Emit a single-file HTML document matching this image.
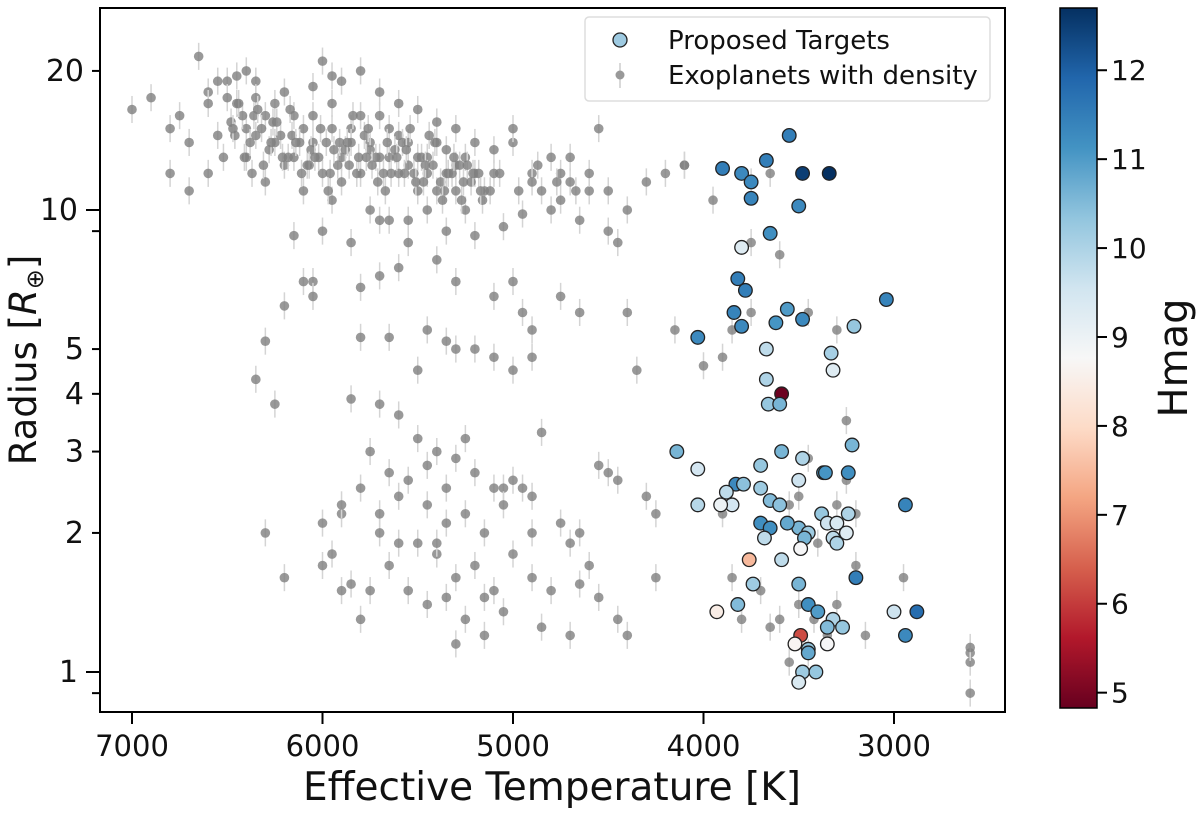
<!DOCTYPE html>
<html><head><meta charset="utf-8"><style>
html,body{margin:0;padding:0;background:#fff;}
svg text{font-family:"DejaVu Sans","Liberation Sans",sans-serif;fill:#111;}
</style></head><body>
<svg id="chart" width="1200" height="811" viewBox="0 0 1200 811" xmlns="http://www.w3.org/2000/svg">
<defs>
<linearGradient id="rdbu" x1="0" y1="1" x2="0" y2="0">
<stop offset="0" stop-color="#67001f"/><stop offset="0.1" stop-color="#b2182b"/><stop offset="0.2" stop-color="#d6604d"/><stop offset="0.3" stop-color="#f4a582"/><stop offset="0.4" stop-color="#fddbc7"/><stop offset="0.5" stop-color="#f7f7f7"/><stop offset="0.6" stop-color="#d1e5f0"/><stop offset="0.7" stop-color="#92c5de"/><stop offset="0.8" stop-color="#4393c3"/><stop offset="0.9" stop-color="#2166ac"/><stop offset="1" stop-color="#053061"/>
</linearGradient>
<clipPath id="plotclip"><rect x="100" y="8" width="905" height="704"/></clipPath>
</defs>
<g id="gray" clip-path="url(#plotclip)"></g>
<g id="targets" clip-path="url(#plotclip)"></g>
<rect x="100" y="8" width="905" height="704" fill="none" stroke="#000" stroke-width="2"/>
<g id="axes"></g>
<text x="552" y="800" font-size="39" text-anchor="middle">Effective Temperature [K]</text>
<text transform="translate(36,360) rotate(-90)" font-size="37" text-anchor="middle">Radius [<tspan font-style="italic">R</tspan><tspan font-size="24" dy="7">⊕</tspan><tspan dy="-7">]</tspan></text>
<g>
<rect x="585" y="17" width="405" height="84" rx="4" fill="#fff" stroke="#ddd" stroke-width="1.5"/>
<circle cx="620" cy="40" r="7" fill="#9ecae1" stroke="#222" stroke-width="1.3"/>
<text x="668" y="49" font-size="26">Proposed Targets</text>
<line x1="620" y1="63" x2="620" y2="88" stroke="#ccc" stroke-width="1.5"/>
<circle cx="620" cy="75" r="4.5" fill="#999"/>
<text x="668" y="84" font-size="26">Exoplanets with density</text>
</g>
<rect x="1060" y="8" width="37" height="700" fill="url(#rdbu)" stroke="#000" stroke-width="1.5"/>
<g id="cbticks"></g>
<text transform="translate(1187,358) rotate(-90)" font-size="40" text-anchor="middle">Hmag</text>
</svg>
<script>
const xTicks=[7000,6000,5000,4000,3000];
const yTicksLabeled=[1,2,3,4,5,10,20];
const yTicksMinor=[0.9,9];
const cbTicks=[5,6,7,8,9,10,11,12];
const grayT=[7000,6900,6800,6750,6700,6650,6600,6550,6500,6450,6400,6350,6300,6250,6200,6150,6100,6050,6000,5950,5900,5850,5800,5750,5700,5650,5600,5550,5500,5450,5400,5350,5300,5250,5200,5150,5100,5000,4900,4850,4800,4750,4700,4600,4550,4500,4400,4300,4200,4100,6600,6450,6350,6250,6150,6050,5950,5850,5750,5650,5550,5450,5350,6700,6550,6400,6200,6000,5900,5800,5700,5600,5500,5400,5300,6800,6600,6300,6100,5950,5750,5650,5550,5450,5350,5250,5200,5050,4950,4750,4650,4500,4450,6000,5850,5700,6150,5900,5800,5700,5500,5400,5000,4900,4700,4600,4800,5100,5200,5300,6400,6500,6350,6050,5600,5950,
6480,6420,6380,6320,6280,6220,6180,6120,6080,6020,5980,5920,5880,5820,5780,5720,5680,5620,5580,5520,5480,5420,5380,5320,5280,5220,5180,5120,6460,6410,6360,6310,6260,6210,6160,6110,6060,6010,5960,5910,5860,5810,5760,5710,5660,5610,5560,5510,5460,5410,5360,5310,5260,5210,5160,6440,6340,6240,6140,6040,5940,5840,5740,5640,5540,5440,5340,5240,6520,6470,6370,6270,6170,6070,5970,5870,5770,5670,5570,5470,5370,5270,5170,5070,4970,4870,4770,4670,
6100,6050,6200,6050,5800,5700,5600,5400,5300,5100,5000,4950,4750,4650,5650,5450,5350,5200,5100,5000,4900,5500,5300,6300,6350,6250,5850,5700,5600,4350,4000,4150,4400,5550,5800,4900,
6300,6000,5900,5800,5700,5600,5500,5450,5400,5350,5300,5250,5200,5100,5050,5000,4900,4850,5750,5650,5550,5450,5350,5250,5150,5050,4950,6200,5900,5850,5750,5650,5550,5500,5400,5300,5200,5100,5000,4900,5950,5800,5450,5350,5250,5150,5050,4850,4700,4650,4600,4550,4450,4400,4250,4700,4650,4550,4500,4450,4300,4250,5300,5150,4750,4800,5600,5700,5900,6000,5400,4900,
3800,3700,3600,3500,3400,3300,3250,3200,2950,2600,2600,2600,2600,3450,3550,3250,3600,3750,3850,3900,3450,3300,3650,3750,3950,4100,3750,3450,3350,3500,3300,3200,3900,3850,3650,3420,3550,3150];
const grayR=[16.5,17.5,15,16,11,21.5,18,19,19,17,15,19,16,14,18,13,15,14,21,17,13,15,12,14,13,15,12,14,11,13,14,12,11,13,12,11,12,14,12,11,10,12,13,11,15,11,10,11.5,12,12.5,17,19.5,17.5,17,16,16,15,14,13.5,13,12.5,12,13.5,14,14.5,13,12.5,12,11.5,16,16,14.5,13,11,12.5,12,12,11.5,11,10.5,10,9.5,9.5,10,9,10,8.8,9.2,9.8,10.5,9.5,9,8.5,9,8.5,9.5,8.8,19,20,18,16.5,15.5,15,11.5,11.5,12,13,13.5,14,15,20,17.5,14.5,18.5,17,19.5,
15.5,16,14,15,13.5,14.5,13,14,12.5,13,14,12.5,13.5,12,14.5,13,12,13.5,14,12,13,12.5,11.5,12,12.5,11.5,12,11,14.5,13,16,12.5,15.5,13,14.5,12,13.5,15,12,14,12.5,13,15,11.5,14,13,13.5,11.5,12.5,14,11,13,11.5,12,10.5,17,16.5,15.5,14,13,13.5,16,12.5,12,15,14.5,12,12.5,13,15,12,14,16.5,12.5,11,14,13,11,12,11.5,10.5,10.5,11,12,11,12.5,11.5,11,
7,7,6.2,6.5,6.8,7.2,7.5,7.8,7,6.5,7,6,6.5,6,5.3,5.5,5.2,5,4.8,4.5,5.5,4.5,5,5.2,4.3,3.8,3.9,3.8,3.6,4.5,4.6,5.5,6,8.5,5.3,4.8,
2.0,2.1,2.2,2.5,2.2,2.4,3.2,2.8,3,2.5,2.9,3.2,2.7,2.5,2.5,2.6,2.4,3.3,3.0,2.7,2.6,2.3,2.1,2.2,2.0,2.3,2.5,1.6,1.5,1.55,1.5,1.7,1.5,1.9,1.8,1.6,1.7,1.5,1.8,1.6,1.8,1.3,1.4,1.45,1.3,1.45,1.35,1.25,1.2,1.55,1.7,1.45,1.3,1.2,1.6,1.9,2.0,2.8,2.7,2.6,2.4,2.2,1.15,1.2,2.1,1.5,1.9,2.0,2.3,1.7,1.9,2.0,
1.3,1.5,1.3,1.4,1.9,2.3,2.6,1.7,1.6,1.1,1.05,0.9,1.13,2.9,2.3,3.5,8,6,5.5,4.8,6,5.5,12,11.5,10.5,12.5,8.5,1.1,1.2,2.4,1.4,2.2,2.2,1.6,1.25,1.3,1.05,1.2];
const tgtT=[3550,3900,3800,3750,3670,3480,3340,3750,3500,3650,3800,3820,3780,3560,3040,3840,3800,3620,3480,3210,4030,3670,3330,3320,3670,3590,3660,3600,4140,4030,3590,3700,3480,3370,3240,3220,3830,3790,3500,3360,3880,3850,3910,3700,3650,4030,3600,3700,3650,3500,3560,3450,3380,3350,3300,3240,3250,3320,3680,3470,3490,3300,2940,3760,3590,3200,3500,3740,3820,3930,3450,3400,3320,3000,2880,3350,3270,2940,3490,3520,3450,3350,3450,3480,3410,3500];
const tgtR=[14.5,12.3,12,11.5,12.8,12,12,10.6,10.2,8.9,8.3,7.1,6.7,6.1,6.4,6.0,5.6,5.7,5.8,5.6,5.3,5.0,4.9,4.5,4.3,4.0,3.8,3.8,3.0,2.75,3.0,2.8,2.9,2.7,2.7,3.1,2.55,2.55,2.6,2.7,2.45,2.3,2.3,2.5,2.35,2.3,2.3,2.1,2.05,2.05,2.1,2.0,2.2,2.1,2.1,2.2,2.0,1.95,1.95,1.95,1.85,1.9,2.3,1.75,1.75,1.6,1.55,1.55,1.4,1.35,1.4,1.35,1.3,1.35,1.35,1.25,1.25,1.2,1.2,1.15,1.12,1.15,1.1,1.0,1.0,0.95];
const tgtH=[11.5,11.5,11.3,11.3,11.5,12.5,12.7,11.4,11.3,11.2,9.3,11.5,11.5,11.0,11.4,11.4,11.3,11.1,11.3,10.3,11.3,9.8,10.1,9.3,10.0,4.9,10.3,10.6,10.6,9.5,10.6,10.3,10.0,11.0,11.2,10.6,11.3,10.4,9.6,11.1,9.8,9.5,9.0,10.2,10.5,9.9,10.4,11.2,11.2,10.6,10.8,10.2,10.3,9.6,9.4,10.0,9.3,9.8,9.8,10.6,8.8,10.0,11.4,7.5,9.8,11.5,10.6,10.2,10.5,8.5,11.2,11.0,10.0,9.6,11.8,10.5,10.3,11.3,6.2,8.7,10.3,8.8,10.8,10.2,10.3,9.4];
const NS='http://www.w3.org/2000/svg';
const xS=t=>132+(7000-t)*0.1905;
const yS=r=>672-Math.log10(r)*462;
const cMin=4.85,cMax=12.7;
const cbY=h=>706-(h-cMin)/(cMax-cMin)*698;
const stops=['#67001f','#b2182b','#d6604d','#f4a582','#fddbc7','#f7f7f7','#d1e5f0','#92c5de','#4393c3','#2166ac','#053061'];
function hx(c){return [1,3,5].map(i=>parseInt(c.substr(i,2),16));}
function cmap(h){let f=Math.max(0,Math.min(1,(h-cMin)/(cMax-cMin)))*10;let i=Math.min(9,Math.floor(f));let a=hx(stops[i]),b=hx(stops[i+1]),u=f-i;return 'rgb('+a.map((v,k)=>Math.round(v+(b[k]-v)*u)).join(',')+')';}
function mk(tag,at,parent){const e=document.createElementNS(NS,tag);for(const k in at)e.setAttribute(k,at[k]);parent.appendChild(e);return e;}
const gG=document.getElementById('gray');
grayT.forEach((t,i)=>{const r=grayR[i];const x=xS(t),y=yS(r);
 const l=mk('line',{x1:x,x2:x,y1:yS(r*1.07),y2:yS(r*0.935),stroke:'#d4d4d4','stroke-width':1.5},gG);
 
 
 const c=mk('circle',{cx:x,cy:y,r:4.8,fill:'#808080','fill-opacity':0.8},gG);
 
 
});
const tG=document.getElementById('targets');
tgtT.forEach((t,i)=>{const c=mk('circle',{cx:xS(t),cy:yS(tgtR[i]),r:6.8,fill:cmap(tgtH[i]),stroke:'#222','stroke-width':1.3},tG);
 
 
});
const aG=document.getElementById('axes');
xTicks.forEach(t=>{const x=xS(t);mk('line',{x1:x,x2:x,y1:712,y2:724,stroke:'#000','stroke-width':2},aG);
 const tx=mk('text',{x:x,y:756,'font-size':29,'text-anchor':'middle'},aG);tx.textContent=t;
 
 });
yTicksLabeled.forEach(r=>{const y=yS(r);const major=(r===1||r===10);mk('line',{x1:major?86:92,x2:100,y1:y,y2:y,stroke:'#000','stroke-width':2},aG);
 const tx=mk('text',{x:major?78:84,y:y+10,'font-size':30,'text-anchor':'end'},aG);tx.textContent=r;
 
 });
yTicksMinor.forEach(r=>{const y=yS(r);mk('line',{x1:92,x2:100,y1:y,y2:y,stroke:'#000','stroke-width':2},aG);});
const cG=document.getElementById('cbticks');
cbTicks.forEach(h=>{const y=cbY(h);mk('line',{x1:1097,x2:1107,y1:y,y2:y,stroke:'#000','stroke-width':2},cG);
 const tx=mk('text',{x:1111,y:y+10,'font-size':28},cG);tx.textContent=h;
 
 });
</script>
</body></html>
